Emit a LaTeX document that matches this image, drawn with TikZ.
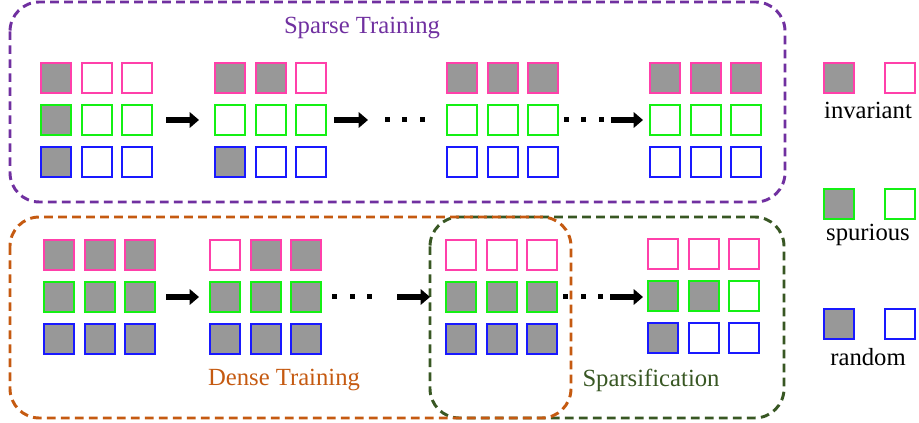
\documentclass[tikz,border=0pt]{standalone}
\usepackage{fontspec}
\setmainfont{Liberation Serif}
\usetikzlibrary{arrows.meta}
\definecolor{invColor}{RGB}{255, 64, 170}
\definecolor{spuColor}{RGB}{20, 240, 20}
\definecolor{rndColor}{RGB}{25, 25, 255}
\definecolor{cellGray}{RGB}{152, 152, 152}
\definecolor{sparseColor}{RGB}{112, 48, 160}
\definecolor{denseColor}{RGB}{197, 90, 17}
\definecolor{pruneColor}{RGB}{56, 87, 35}

\tikzset{
  cell/.style={draw, line width=1.5pt, minimum size=22.5pt, inner sep=0pt},
  frame/.style={line width=2.2pt, dash pattern=on 6.5pt off 4pt, rounded corners=22pt},
  bigarrow/.style={line width=4.5pt, -{Triangle[length=7pt, width=11.5pt]}},
  lbl/.style={font=\fontsize{18.5}{22}\selectfont},
}

% 3x3 block of weights: name, left, top, fill flags row by row
\newcommand\cellgrid[4]{%
  \foreach \f [count=\i from 0] in {#4} {
    \pgfmathtruncatemacro\rowi{int(\i/3)}
    \pgfmathtruncatemacro\coli{mod(\i,3)}
    \ifcase\rowi \def\bclr{invColor}\or \def\bclr{spuColor}\else \def\bclr{rndColor}\fi
    \ifnum\f=1 \def\fclr{cellGray}\else \def\fclr{white}\fi
    \node[cell, draw=\bclr, fill=\fclr] (#1-\rowi-\coli) at (#2+16+40.5*\coli, #3+16+42*\rowi) {};
  }
}

\begin{document}
\begin{tikzpicture}[x=0.75pt, y=-0.75pt]
  \useasboundingbox (0,0) rectangle (919,423);

  % Frames
  \draw[frame, sparseColor] (10,2) rectangle (785,202);
  \draw[frame, pruneColor] (430,217) rectangle (784,418);
  \draw[frame, denseColor] (10,217) rectangle (571,418);

  \node[lbl, text=sparseColor] (sparse) at (362,28) {Sparse Training};
  \node[lbl, text=denseColor] (dense) at (284,380) {Dense Training};
  \node[lbl, text=pruneColor] (prune) at (651,380) {Sparsification};

  % Sparse training blocks
  \cellgrid{s1}{40}{62}{1,0,0, 1,0,0, 1,0,0}
  \cellgrid{s2}{214}{62}{1,1,0, 0,0,0, 1,0,0}
  \cellgrid{s3}{446}{62}{1,1,1, 0,0,0, 0,0,0}
  \cellgrid{s4}{649}{62}{1,1,1, 0,0,0, 0,0,0}

  % Dense training and sparsification blocks
  \cellgrid{d1}{43}{239}{1,1,1, 1,1,1, 1,1,1}
  \cellgrid{d2}{209}{239}{0,1,1, 1,1,1, 1,1,1}
  \cellgrid{d3}{445}{239}{0,0,0, 1,1,1, 1,1,1}
  \cellgrid{d4}{647}{238}{0,0,0, 1,1,0, 1,0,0}

  % Arrows
  \coordinate (sa1) at (166,120); \coordinate (sb1) at (199,120);
  \coordinate (sa2) at (334,120); \coordinate (sb2) at (368,120);
  \coordinate (sa3) at (611,120); \coordinate (sb3) at (643,120);
  \coordinate (da1) at (166,297); \coordinate (db1) at (199,297);
  \coordinate (da2) at (397,297); \coordinate (db2) at (430,297);
  \coordinate (da3) at (610,297); \coordinate (db3) at (643,297);
  \foreach \k in {s,d} {
    \foreach \j in {1,2,3}
      \draw[bigarrow] (\k a\j) -- (\k b\j);
  }

  % Dots
  \foreach \x/\y in {387/120, 404/120, 422/120, 566/120, 583/120, 601/120,
                     334/297, 352/297, 369/297, 565/297, 583/297, 600/297}
    \fill (\x-2.5,\y-2.5) rectangle ++(5,5);

  % Legend
  \node[cell, draw=invColor, fill=cellGray] (inv-on) at (839,78) {};
  \node[cell, draw=invColor, fill=white] (inv-off) at (900,78) {};
  \node[lbl] (inv) at (868,110) {invariant};
  \node[cell, draw=spuColor, fill=cellGray] (spu-on) at (839,204) {};
  \node[cell, draw=spuColor, fill=white] (spu-off) at (900,204) {};
  \node[lbl] (spu) at (868,235) {spurious};
  \node[cell, draw=rndColor, fill=cellGray] (rnd-on) at (839,324) {};
  \node[cell, draw=rndColor, fill=white] (rnd-off) at (900,324) {};
  \node[lbl] (rnd) at (868,357) {random};
\end{tikzpicture}
\end{document}
